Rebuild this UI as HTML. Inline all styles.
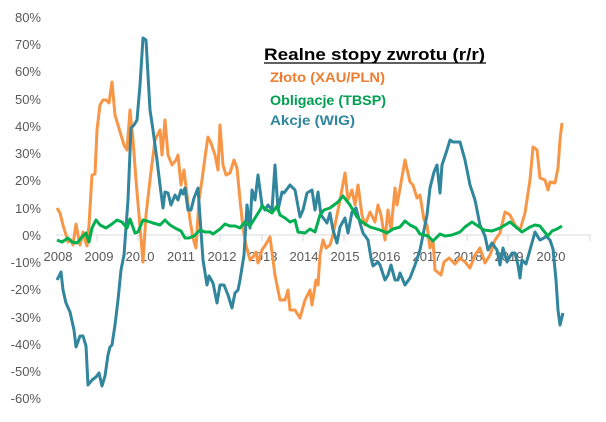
<!DOCTYPE html>
<html><head><meta charset="utf-8"><style>
body{margin:0;background:#fff;width:606px;height:417px;overflow:hidden}
text{font-family:"Liberation Sans",sans-serif}
</style></head><body>
<svg width="606" height="417" xmlns="http://www.w3.org/2000/svg">
<g font-size="13" fill="#595959" text-anchor="end">
<text x="41" y="22">80%</text><text x="41" y="49">70%</text><text x="41" y="76">60%</text>
<text x="41" y="104">50%</text><text x="41" y="131">40%</text><text x="41" y="158">30%</text>
<text x="41" y="185">20%</text><text x="41" y="213">10%</text><text x="41" y="240">0%</text>
<text x="41" y="267">-10%</text><text x="41" y="294">-20%</text><text x="41" y="322">-30%</text>
<text x="41" y="349">-40%</text><text x="41" y="376">-50%</text><text x="41" y="403">-60%</text>
</g>
<line x1="56" y1="235" x2="591" y2="235" stroke="#d9d9d9" stroke-width="1"/>
<g stroke="#d9d9d9">
<line x1="97" y1="235" x2="97" y2="241"/><line x1="138" y1="235" x2="138" y2="241"/><line x1="179" y1="235" x2="179" y2="241"/><line x1="220" y1="235" x2="220" y2="241"/><line x1="262" y1="235" x2="262" y2="241"/><line x1="303" y1="235" x2="303" y2="241"/><line x1="344" y1="235" x2="344" y2="241"/><line x1="385" y1="235" x2="385" y2="241"/><line x1="426" y1="235" x2="426" y2="241"/><line x1="467" y1="235" x2="467" y2="241"/><line x1="508" y1="235" x2="508" y2="241"/><line x1="549" y1="235" x2="549" y2="241"/><line x1="590" y1="235" x2="590" y2="241"/>
</g>
<g font-size="13" fill="#595959" text-anchor="middle">
<text x="58" y="261">2008</text><text x="99" y="261">2009</text><text x="140" y="261">2010</text><text x="181" y="261">2011</text><text x="222" y="261">2012</text><text x="263" y="261">2013</text><text x="304" y="261">2014</text><text x="345" y="261">2015</text><text x="386" y="261">2016</text><text x="427" y="261">2017</text><text x="468" y="261">2018</text><text x="509" y="261">2019</text><text x="551" y="261">2020</text>
</g>
<g fill="none" stroke-width="3" stroke-linejoin="round">
<polyline stroke="#F79646" points="57,208 60,213 63,225 66,235 68,242 71,240 73,245 76,224 78,235 80,245 83,232 85,240 87,246 89,225 92,175 95,174 97,130 100,105 103,100 106,100 109,103 112,82 115,115 118,125 121,135 124,145 127,150 130,110 133,140 136,180 139,215 143,262 146,215 150,180 155,140 160,130 162,155 165,120 168,155 172,165 176,160 178,155 181,185 184,170 187,195 190,220 193,238 196,248 199,200 202,180 206,150 208,137 211,143 215,155 218,170 220,125 223,165 226,175 230,173 234,160 237,168 240,200 243,228 246,245 250,260 253,257 256,252 258,263 262,250 266,244 270,237 275,275 280,300 285,300 288,290 290,310 295,310 300,318 305,300 310,290 312,305 316,280 318,285 320,255 323,240 326,248 330,245 333,235 336,220 340,200 345,173 348,200 352,190 355,205 358,185 362,215 365,225 370,212 375,222 378,205 381,215 385,240 388,210 391,230 395,188 397,205 401,183 405,160 410,182 413,185 417,198 420,195 424,220 427,225 430,248 433,240 435,270 441,275 444,262 449,258 455,264 460,258 465,262 470,268 475,255 480,248 485,263 490,255 495,240 500,233 505,212 510,215 515,225 520,230 525,213 530,180 533,147 537,150 540,178 545,180 548,190 550,182 555,183 558,168 560,140 562,123"/>
<polyline stroke="#31859C" points="57,280 61,272 63,290 66,303 70,312 74,330 76,347 80,336 83,336 86,346 88,385 92,380 96,377 99,373 102,386 105,376 108,355 110,347 112,345 115,325 118,300 121,270 124,255 128,200 131,128 134,125 137,120 140,85 143,38 146,40 150,110 153,130 157,160 160,185 163,208 165,192 168,193 171,205 175,195 178,200 181,190 183,194 185,188 188,210 191,210 194,198 196,193 198,188 203,260 207,285 209,276 213,283 217,303 220,285 224,285 228,295 232,308 235,293 238,290 240,280 244,255 247,205 250,228 252,190 255,200 258,175 262,205 265,210 268,205 272,210 275,165 278,210 282,192 284,193 290,185 295,190 300,217 303,210 307,193 312,190 315,210 318,192 321,215 327,223 330,213 333,230 337,243 340,227 345,218 348,233 352,212 356,208 360,223 363,233 368,240 371,258 373,266 378,262 380,265 385,280 388,275 391,265 395,280 398,280 400,273 405,285 410,278 415,265 420,250 425,225 427,215 430,188 434,172 437,165 440,193 442,165 447,150 450,140 453,142 460,142 465,160 470,185 475,200 480,225 485,236 488,250 492,243 497,250 500,265 503,248 507,262 512,253 515,253 518,265 520,278 522,260 526,264 530,250 535,232 538,237 540,240 544,238 546,236 550,240 553,249 556,280 558,310 560,325 563,313"/>
<polyline stroke="#00B050" points="57,240 62,242 68,238 72,242 77,243 82,237 86,233 89,242 92,228 96,220 100,225 106,228 112,224 117,220 122,222 127,228 130,219 135,233 138,232 143,220 147,221 153,223 160,225 165,220 170,225 175,228 181,231 185,238 189,238 194,236 200,230 205,232 210,232 213,234 220,229 225,224 230,226 235,226 240,228 245,222 250,226 255,218 260,210 262,206 267,210 272,213 277,206 280,215 285,218 290,222 295,220 298,232 305,233 310,229 315,232 320,215 324,210 330,208 338,202 343,196 350,205 357,217 362,222 370,227 380,230 387,233 393,229 400,227 405,221 410,225 416,228 420,234 428,236 433,241 440,234 445,236 452,235 460,232 465,227 472,222 478,226 484,230 492,231 500,228 510,222 517,228 522,232 530,227 535,225 540,226 543,230 548,236 552,231 557,229 562,226"/>
</g>
<text x="264" y="60" font-size="17" font-weight="bold" fill="#000" textLength="221" lengthAdjust="spacingAndGlyphs">Realne stopy zwrotu (r/r)</text>
<line x1="264" y1="63" x2="486" y2="63" stroke="#000" stroke-width="1.3"/>
<g font-size="14" font-weight="bold">
<text x="270" y="82" fill="#ED7D31" textLength="115" lengthAdjust="spacingAndGlyphs">Złoto (XAU/PLN)</text>
<text x="270" y="105" fill="#00A050" textLength="116" lengthAdjust="spacingAndGlyphs">Obligacje (TBSP)</text>
<text x="270" y="125" fill="#31859C" textLength="85" lengthAdjust="spacingAndGlyphs">Akcje (WIG)</text>
</g>
</svg>
</body></html>
